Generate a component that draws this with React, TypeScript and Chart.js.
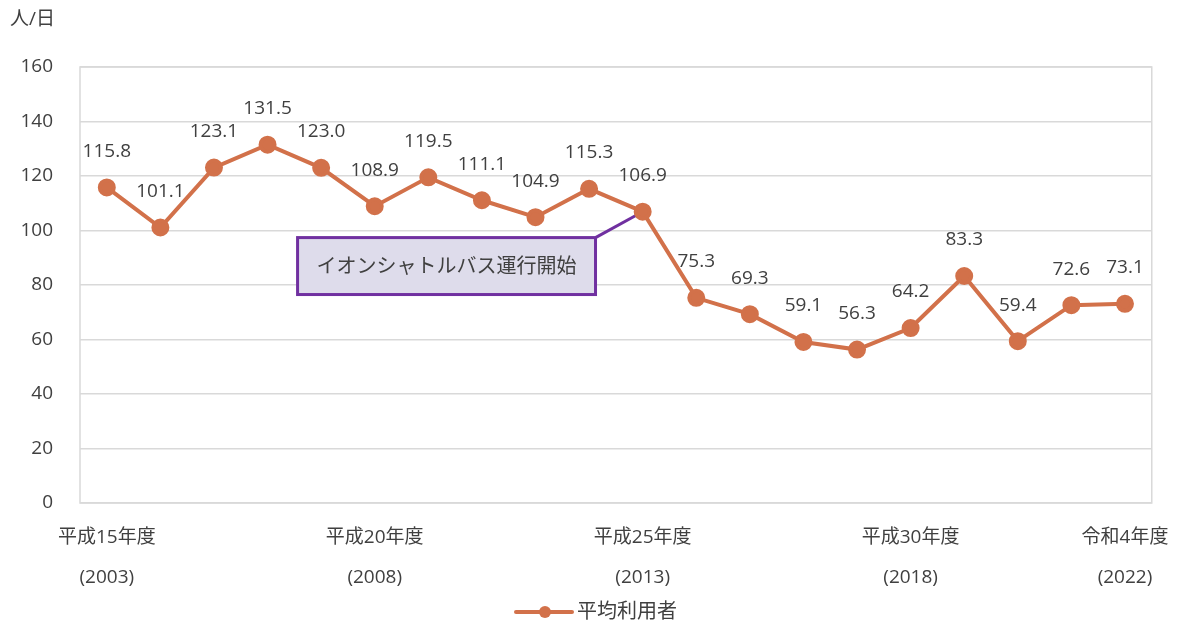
import React, { useEffect, useRef } from "react";
import { Chart, registerables } from "chart.js";

Chart.register(...registerables);

const years = [2003, 2004, 2005, 2006, 2007, 2008, 2009, 2010, 2011, 2012, 2013, 2014, 2015, 2016, 2017, 2018, 2019, 2020, 2021, 2022];
const tickLabels: (string | string[])[] = [
  ["平成15年度", "(2003)"], "", "", "", "",
  ["平成20年度", "(2008)"], "", "", "", "",
  ["平成25年度", "(2013)"], "", "", "", "",
  ["平成30年度", "(2018)"], "", "", "",
  ["令和4年度", "(2022)"],
];
const users = [115.8, 101.1, 123.1, 131.5, 123.0, 108.9, 119.5, 111.1, 104.9, 115.3, 106.9, 75.3, 69.3, 59.1, 56.3, 64.2, 83.3, 59.4, 72.6, 73.1];
const seriesName = "平均利用者";
const yTitle = "人/日";
const calloutText = "イオンシャトルバス運行開始";
const calloutIndex = 10;

const FONT = "'Open Sans', 'Noto Sans CJK JP', sans-serif";
const LINE_COLOR = "#D2714A";
const TEXT_COLOR = "#404040";

export default function App() {
  const ref = useRef<HTMLCanvasElement | null>(null);

  useEffect(() => {
    document.body.style.margin = "0";
    const canvas = ref.current;
    if (!canvas) return;

    const overlay = {
      id: "overlay",
      beforeDatasetsDraw(chart: any) {
        const { ctx, chartArea, scales } = chart;
        const x = scales.x;
        const y = scales.y;
        const bx1 = x.getPixelForValue(3.56);
        const bx2 = x.getPixelForValue(9.12);
        const by1 = y.getPixelForValue(97.4);
        const by2 = y.getPixelForValue(76.5);
        const px = x.getPixelForValue(calloutIndex);
        const py = y.getPixelForValue(users[calloutIndex]);
        ctx.save();
        ctx.strokeStyle = "#7030A0";
        ctx.lineWidth = 3;
        ctx.beginPath();
        ctx.moveTo(bx2, by1);
        ctx.lineTo(px, py);
        ctx.stroke();
        ctx.fillStyle = "#DEDCEB";
        ctx.fillRect(bx1, by1, bx2 - bx1, by2 - by1);
        ctx.strokeRect(bx1, by1, bx2 - bx1, by2 - by1);
        ctx.fillStyle = TEXT_COLOR;
        ctx.font = `20px ${FONT}`;
        ctx.textAlign = "center";
        ctx.textBaseline = "middle";
        ctx.fillText(calloutText, (bx1 + bx2) / 2, (by1 + by2) / 2 + 1);
        ctx.restore();
        ctx.save();
        ctx.strokeStyle = "#D9D9D9";
        ctx.lineWidth = 1.5;
        ctx.strokeRect(chartArea.left, chartArea.top, chartArea.right - chartArea.left, chartArea.bottom - chartArea.top);
        ctx.restore();
      },
      afterDatasetsDraw(chart: any) {
        const { ctx, chartArea, scales } = chart;
        const x = scales.x;
        const y = scales.y;
        ctx.save();
        ctx.fillStyle = TEXT_COLOR;
        ctx.font = `19px ${FONT}`;
        ctx.textAlign = "center";
        ctx.textBaseline = "middle";
        users.forEach((v, i) => {
          ctx.fillText(v.toFixed(1), x.getPixelForValue(i), y.getPixelForValue(v) - 36);
        });
        ctx.textAlign = "left";
        ctx.fillText(yTitle, chartArea.left - 70, chartArea.top - 47);
        const ly = chart.height - 13;
        const lx = chart.width / 2 - 76;
        ctx.strokeStyle = LINE_COLOR;
        ctx.lineWidth = 4;
        ctx.lineCap = "round";
        ctx.beginPath();
        ctx.moveTo(lx, ly);
        ctx.lineTo(lx + 56, ly);
        ctx.stroke();
        ctx.fillStyle = LINE_COLOR;
        ctx.beginPath();
        ctx.arc(lx + 29, ly, 6, 0, Math.PI * 2);
        ctx.fill();
        ctx.fillStyle = TEXT_COLOR;
        ctx.font = `20px ${FONT}`;
        ctx.fillText(seriesName, lx + 61, ly);
        ctx.restore();
      },
    };

    const chart = new Chart(canvas, {
      type: "line",
      data: {
        labels: years.map(String),
        datasets: [
          {
            label: seriesName,
            data: users,
            borderColor: LINE_COLOR,
            backgroundColor: LINE_COLOR,
            borderWidth: 4,
            pointRadius: 7,
            pointHoverRadius: 7,
            pointBackgroundColor: LINE_COLOR,
            pointBorderColor: LINE_COLOR,
            tension: 0,
          },
        ],
      },
      options: {
        responsive: false,
        animation: false,
        layout: { padding: { top: 67, right: 24, left: 0, bottom: 12 } },
        plugins: {
          legend: { display: false },
          tooltip: { enabled: false },
        },
        scales: {
          x: {
            offset: true,
            grid: { display: false, drawTicks: false },
            border: { display: false },
            ticks: {
              autoSkip: false,
              maxRotation: 0,
              minRotation: 0,
              padding: 15,
              color: TEXT_COLOR,
              font: { family: FONT, size: 19, lineHeight: 40 / 19 },
              callback: (_v: any, i: number) => tickLabels[i],
            },
          },
          y: {
            min: 0,
            max: 160,
            afterFit: (s: any) => {
              s.width = 80;
            },
            grid: { color: "#D9D9D9", lineWidth: 1.5, drawTicks: false },
            border: { display: false },
            ticks: {
              stepSize: 20,
              padding: 27,
              color: TEXT_COLOR,
              font: { family: FONT, size: 19 },
            },
          },
        },
      },
      plugins: [overlay],
    });
    return () => chart.destroy();
  }, []);

  return (
    <div style={{ width: 1184, height: 625 }}>
      <canvas ref={ref} width={1184} height={625} style={{ display: "block" }} />
    </div>
  );
}
